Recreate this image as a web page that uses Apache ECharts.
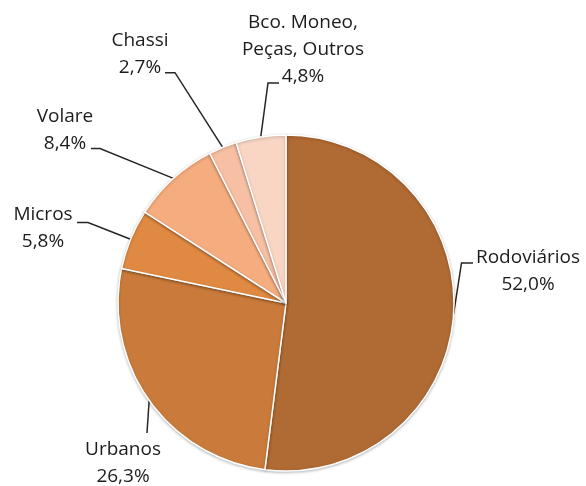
<!DOCTYPE html>
<html>
<head>
<meta charset="utf-8">
<script src="https://cdn.jsdelivr.net/npm/echarts@6/dist/echarts.min.js"></script>
<style>
html,body{margin:0;padding:0;background:#fff;}
#chart{width:586px;height:486px;}
</style>
</head>
<body>
<div id="chart"></div>
<script>
// Data
const categories = ['Rodoviários', 'Urbanos', 'Micros', 'Volare', 'Chassi', 'Bco. Moneo,\nPeças, Outros'];
const shares = [52.0, 26.3, 5.8, 8.4, 2.7, 4.8];

// Styling / layout (not data)
const colors = ['#B06A33', '#CA7B3B', '#E08942', '#F5AC7E', '#F7BFA3', '#F9D6C4'];
const labelPos = [
  [528, 271], [123, 463.5], [43, 228.5], [65, 130], [140, 54.5], [303, 50]
];
const bendPts = [
  [[461.5, 263], [473, 263]],
  [[147, 433], [147, 433]],
  [[88, 222.5], [77, 222.5]],
  [[100, 148.5], [91, 148.5]],
  [[175, 72.7], [165, 72.7]],
  [[268, 83], [279, 83]]
];

const chart = echarts.init(document.getElementById('chart'), null, {renderer: 'canvas'});
chart.setOption({
  animation: false,
  backgroundColor: '#ffffff',
  series: [{
    type: 'pie',
    center: [286, 303],
    radius: 168,
    startAngle: 90,
    clockwise: true,
    avoidLabelOverlap: false,
    data: categories.map((c, i) => ({
      name: c,
      value: shares[i],
      itemStyle: {color: colors[i]}
    })),
    itemStyle: {
      borderColor: '#ffffff',
      borderWidth: 1.5,
      shadowBlur: 3,
      shadowColor: 'rgba(0,0,0,0.25)',
      shadowOffsetY: 1
    },
    label: {
      show: true,
      position: 'outside',
      formatter: p => p.name + '\n' + p.value.toFixed(1).replace('.', ',') + '%',
      fontFamily: '"Open Sans", sans-serif',
      fontSize: 19,
      lineHeight: 27,
      color: '#1c1c1c',
      align: 'center'
    },
    labelLine: {
      show: true,
      length: 10,
      length2: 10,
      lineStyle: {color: '#262626', width: 1.5}
    },
    labelLayout: function (params) {
      const i = params.dataIndex;
      const pts = params.labelLinePoints;
      const p0 = pts ? pts[0] : bendPts[i][0];
      return {
        x: labelPos[i][0],
        y: labelPos[i][1],
        align: 'center',
        verticalAlign: 'middle',
        labelLinePoints: [p0, bendPts[i][0], bendPts[i][1]]
      };
    }
  }]
});
</script>
</body>
</html>
